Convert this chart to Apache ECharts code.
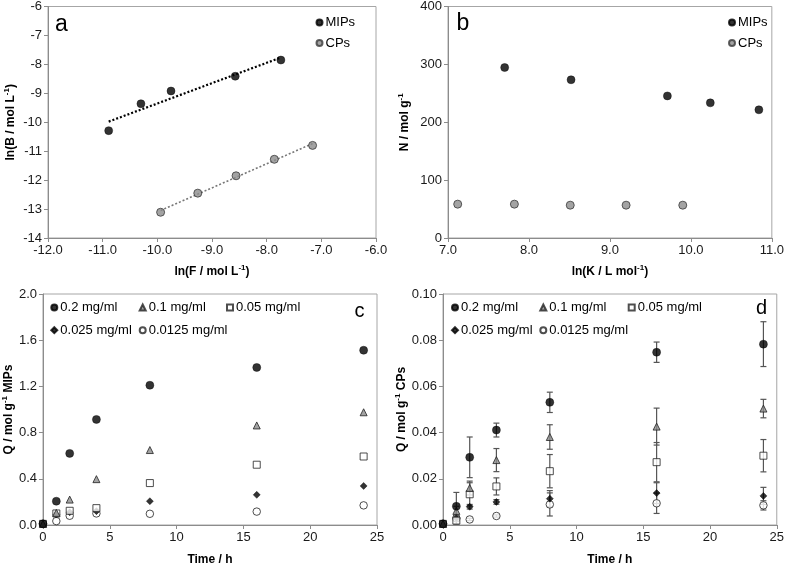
<!DOCTYPE html>
<html><head><meta charset="utf-8">
<script src="https://cdn.jsdelivr.net/npm/echarts@6/dist/echarts.min.js"></script>
<style>html,body{margin:0;padding:0;background:#fff}#c{width:787px;height:567px}</style>
</head><body><div id="c"></div>
<script>
// ---------- Panel a: ln(B) vs ln(F) ----------
const aMIPsX = [-10.89, -10.30, -9.75, -8.575, -7.74];
const aMIPsY = [-10.29, -9.36, -8.92, -8.41, -7.85];
const aCPsX  = [-9.94, -9.26, -8.56, -7.86, -7.16];
const aCPsY  = [-13.11, -12.45, -11.85, -11.28, -10.80];
// ---------- Panel b: N vs ln(K) ----------
const bMIPsX = [7.70, 8.52, 9.71, 10.24, 10.84];
const bMIPsY = [294.6, 273.4, 245.5, 233.5, 221.5];
const bCPsX  = [7.12, 7.82, 8.51, 9.20, 9.90];
const bCPsY  = [58.5, 58.5, 56.7, 56.7, 56.7];
// ---------- Panels c, d: Q vs time ----------
const times = [0, 1, 2, 4, 8, 16, 24];
const concNames = ['0.2 mg/ml', '0.1 mg/ml', '0.05 mg/ml', '0.025 mg/ml', '0.0125 mg/ml'];
const cQ02    = [0.010, 0.206, 0.620, 0.914, 1.210, 1.364, 1.513];
const cQ01    = [0.010, 0.105, 0.220, 0.397, 0.649, 0.862, 0.976];
const cQ005   = [0.010, 0.100, 0.123, 0.146, 0.363, 0.522, 0.593];
const cQ0025  = [0.010, 0.090, 0.110, 0.120, 0.206, 0.261, 0.338];
const cQ00125 = [0.010, 0.034, 0.080, 0.100, 0.097, 0.116, 0.170];
const dQ02    = [0.0005, 0.0081, 0.0293, 0.0411, 0.0531, 0.0748, 0.0783];
const dQ01    = [0.0005, 0.0061, 0.0160, 0.0281, 0.0381, 0.0426, 0.0504];
const dQ005   = [0.0005, 0.0019, 0.0133, 0.0167, 0.0233, 0.0272, 0.0300];
const dQ0025  = [0.0005, 0.0030, 0.0079, 0.0100, 0.0114, 0.0138, 0.0126];
const dQ00125 = [0.0005, 0.0029, 0.0024, 0.0039, 0.0089, 0.0094, 0.0085];
const dErr02    = [0, 0.0060, 0.0088, 0.0030, 0.0044, 0.0044, 0.0097];
const dErr01    = [0, 0.0020, 0.0030, 0.0050, 0.0053, 0.0080, 0.0040];
const dErr005   = [0, 0.0015, 0.0050, 0.0037, 0.0072, 0.0085, 0.0070];
const dErr0025  = [0, 0.0010, 0.0010, 0.0010, 0.0035, 0.0045, 0.0037];
const dErr00125 = [0, 0.0010, 0.0005, 0.0005, 0.0050, 0.0044, 0.0020];
// tick settings
const aXTicks = {min: -12, max: -6, interval: 1};
const aYTicks = {min: -14, max: -6, interval: 1};
const bXTicks = {min: 7, max: 11, interval: 1};
const bYTicks = {min: 0, max: 400, interval: 100};
const cXTicks = {min: 0, max: 25, interval: 5};
const cYTicks = {min: 0, max: 2, interval: 0.4};
const dYTicks = {min: 0, max: 0.1, interval: 0.02};

const FONT = 'Liberation Sans, Arial, sans-serif';
const AXC = '#8c8c8c';
function zip(x, y){ return x.map((v,i)=>[v, y[i]]); }
function fit(x, y){
  const n=x.length, mx=x.reduce((a,b)=>a+b)/n, my=y.reduce((a,b)=>a+b)/n;
  let sxy=0,sxx=0; for(let i=0;i<n;i++){sxy+=(x[i]-mx)*(y[i]-my); sxx+=(x[i]-mx)**2;}
  const k=sxy/sxx, b=my-k*mx; const x0=Math.min(...x), x1=Math.max(...x);
  return [[x0,k*x0+b],[x1,k*x1+b]];
}
function nameRich(){
  return { t:{fontWeight:'bold', fontSize:12, fontFamily:FONT, color:'#000', lineHeight:16},
           s:{fontWeight:'bold', fontSize:8, fontFamily:FONT, color:'#000', lineHeight:10, verticalAlign:'top'} };
}
function axis(idx, ticks, dec, name, gap){
  return Object.assign({
    type:'value', gridIndex: idx, name: name, nameLocation:'middle', nameGap: gap,
    nameTextStyle:{rich: nameRich()},
    axisLine:{show:true, onZero:false, lineStyle:{color:AXC, width:1}},
    axisTick:{show:true, length:4, inside:false, lineStyle:{color:AXC}},
    splitLine:{show:false},
    axisLabel:{fontSize:13, fontFamily:FONT, color:'#1a1a1a', margin:6,
      formatter: v => dec==null ? String(v) : Number(v).toFixed(dec)}
  }, ticks);
}
const grids = [
  {left:48, top:5, width:328, height:233},
  {left:448, top:5, width:328, height:233},
  {left:42, top:294, width:335, height:235},
  {left:443, top:294, width:334, height:235}
].map(g => Object.assign(g, {show:true, borderColor:'#a6a6a6', borderWidth:1, backgroundColor:'transparent'}));

const xAxis = [
  axis(0, aXTicks, 1, '{t|ln(F / mol L}{s|-1}{t|)}', 26),
  axis(1, bXTicks, 1, '{t|ln(K / L mol}{s|-1}{t|)}', 26),
  axis(2, cXTicks, null, '{t|Time / h}', 27),
  axis(3, cXTicks, null, '{t|Time / h}', 27)
];
const yAxis = [
  axis(0, aYTicks, null, '{t|ln(B / mol L}{s|-1}{t|)}', 29),
  axis(1, bYTicks, null, '{t|N / mol g}{s|-1}', 35),
  axis(2, cYTicks, 1, '{t|Q / mol g}{s|-1}{t| MIPs}', 24),
  axis(3, dYTicks, 2, '{t|Q / mol g}{s|-1}{t| CPs}', 28)
];

const MIPsStyle = {color:'#000', borderColor:'#000', borderWidth:0.5};
const CPsStyle  = {color:'#8c8c8c', borderColor:'#3a3a3a', borderWidth:1};
const concStyles = [
  {symbol:'circle', size:8, itemStyle:{color:'#000', borderColor:'#000', borderWidth:0.5}},
  {symbol:'triangle', size:7, itemStyle:{color:'#8c8c8c', borderColor:'#222', borderWidth:1}},
  {symbol:'rect', size:7, itemStyle:{color:'#fff', borderColor:'#222', borderWidth:1}},
  {symbol:'diamond', size:7, itemStyle:{color:'#000', borderColor:'#000', borderWidth:0.5}},
  {symbol:'circle', size:7.5, itemStyle:{color:'#fff', borderColor:'#222', borderWidth:1}}
];
const cSets = [cQ02, cQ01, cQ005, cQ0025, cQ00125];
const dSets = [dQ02, dQ01, dQ005, dQ0025, dQ00125];
const dErrs = [dErr02, dErr01, dErr005, dErr0025, dErr00125];

function errRender(params, api){
  const x=api.value(0), lo=api.value(1), hi=api.value(2);
  const p1=api.coord([x,hi]), p2=api.coord([x,lo]); const w=3;
  const st={stroke:'#555', lineWidth:1.2};
  return {type:'group', children:[
    {type:'line', shape:{x1:p1[0],y1:p1[1],x2:p2[0],y2:p2[1]}, style:st},
    {type:'line', shape:{x1:p1[0]-w,y1:p1[1],x2:p1[0]+w,y2:p1[1]}, style:st},
    {type:'line', shape:{x1:p2[0]-w,y1:p2[1],x2:p2[0]+w,y2:p2[1]}, style:st}
  ]};
}

const series = [];
// panel a
series.push({type:'line', xAxisIndex:0, yAxisIndex:0, data:fit(aMIPsX,aMIPsY), symbol:'none', silent:true,
  lineStyle:{color:'#000', width:2.2, type:[2,2]}, z:1});
series.push({type:'line', xAxisIndex:0, yAxisIndex:0, data:fit(aCPsX,aCPsY), symbol:'none', silent:true,
  lineStyle:{color:'#777', width:1.6, type:[2,2]}, z:1});
series.push({name:'MIPs', type:'scatter', xAxisIndex:0, yAxisIndex:0, data:zip(aMIPsX,aMIPsY), symbol:'circle', symbolSize:8, itemStyle:MIPsStyle, z:3});
series.push({name:'CPs', type:'scatter', xAxisIndex:0, yAxisIndex:0, data:zip(aCPsX,aCPsY), symbol:'circle', symbolSize:8, itemStyle:CPsStyle, z:3});
// panel b
series.push({name:'MIPs', type:'scatter', xAxisIndex:1, yAxisIndex:1, data:zip(bMIPsX,bMIPsY), symbol:'circle', symbolSize:8, itemStyle:MIPsStyle});
series.push({name:'CPs', type:'scatter', xAxisIndex:1, yAxisIndex:1, data:zip(bCPsX,bCPsY), symbol:'circle', symbolSize:8, itemStyle:CPsStyle});
// panel c
concNames.forEach((n,i)=>{
  series.push({name:n, type:'scatter', xAxisIndex:2, yAxisIndex:2, data:zip(times,cSets[i]),
    symbol:concStyles[i].symbol, symbolSize:concStyles[i].size, itemStyle:concStyles[i].itemStyle, z:3+(4-i)});
});
// panel d
concNames.forEach((n,i)=>{
  const errData = times.map((t,k)=>[t, dSets[i][k]-dErrs[i][k], dSets[i][k]+dErrs[i][k]]).filter((r,k)=>dErrs[i][k]>0);
  series.push({name:'err'+i, type:'custom', xAxisIndex:3, yAxisIndex:3, data:errData, renderItem:errRender,
    encode:{x:0, y:[1,2]}, silent:true, z:2});
  series.push({name:n, type:'scatter', xAxisIndex:3, yAxisIndex:3, data:zip(times,dSets[i]),
    symbol:concStyles[i].symbol, symbolSize:concStyles[i].size, itemStyle:concStyles[i].itemStyle, z:3+(4-i)});
});

function leg(name, cx, cy){
  return {data:[name], left:cx-3, top:cy-8, itemWidth:6, itemHeight:6, itemGap:0, selectedMode:false,
    padding:0, textStyle:{fontSize:13, fontFamily:FONT, color:'#000', padding:[0,0,0,-2]}};
}
const legend = [
  leg('MIPs', 318.5, 24), leg('CPs', 318.5, 44.5),
  leg('MIPs', 731, 24), leg('CPs', 731, 44.5),
  leg(concNames[0], 53.3, 309), leg(concNames[1], 141.7, 309), leg(concNames[2], 229, 309),
  leg(concNames[3], 53.3, 331.7), leg(concNames[4], 141.7, 331.7),
  leg(concNames[0], 454, 309), leg(concNames[1], 542.3, 309), leg(concNames[2], 630.7, 309),
  leg(concNames[3], 454, 331.7), leg(concNames[4], 542.3, 331.7)
];
const chart = echarts.init(document.getElementById('c'), null, {renderer:'canvas'});
chart.setOption({
  animation:false, backgroundColor:'#fff',
  grid: grids, xAxis: xAxis, yAxis: yAxis, series: series, legend: legend,
  graphic: [
    {type:'text', x:61.5, y:25, style:{text:'a', font:'23px '+FONT, fill:'#000', align:'center', verticalAlign:'middle'}},
    {type:'text', x:463, y:24, style:{text:'b', font:'23px '+FONT, fill:'#000', align:'center', verticalAlign:'middle'}},
    {type:'text', x:359.5, y:311, style:{text:'c', font:'20px '+FONT, fill:'#000', align:'center', verticalAlign:'middle'}},
    {type:'text', x:761.5, y:308, style:{text:'d', font:'20px '+FONT, fill:'#000', align:'center', verticalAlign:'middle'}}
  ]
});
</script></body></html>
